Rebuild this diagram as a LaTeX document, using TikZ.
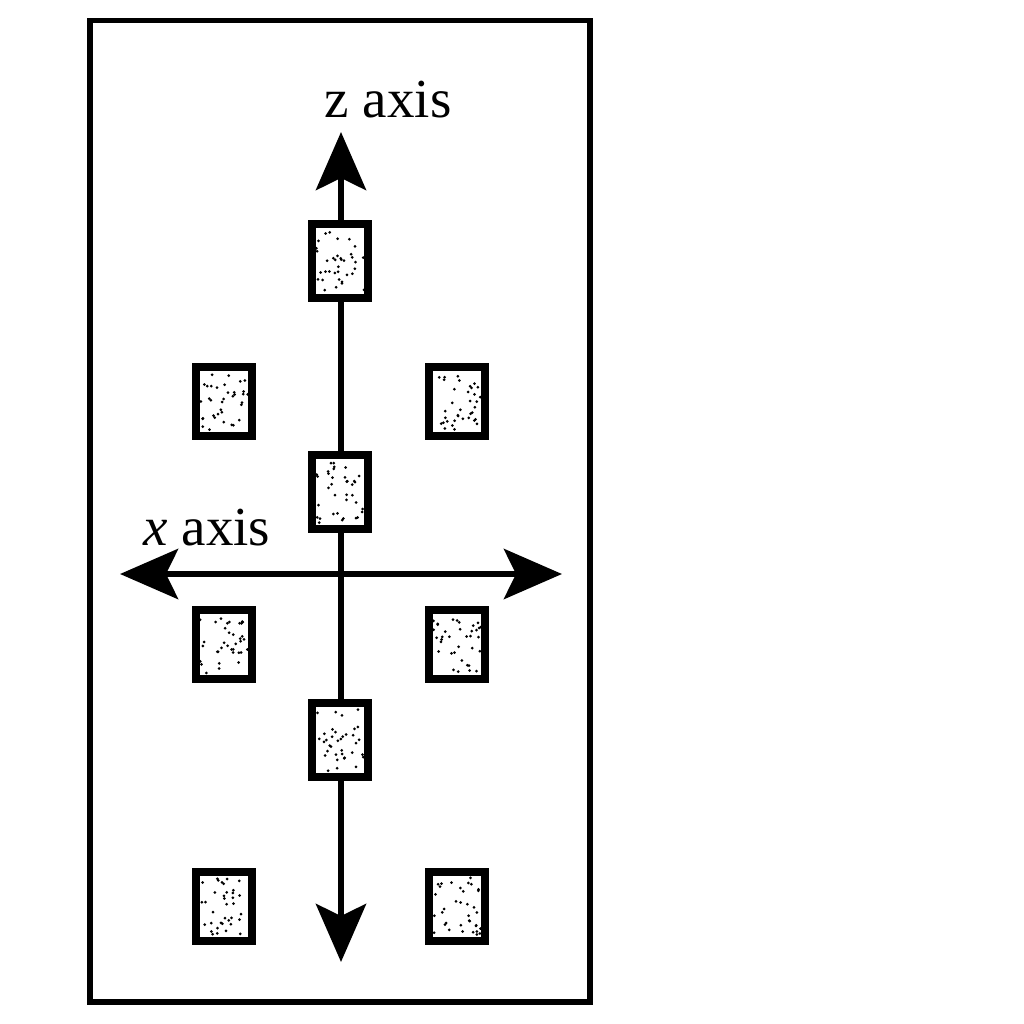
\documentclass[tikz,border=0pt]{standalone}
\usepackage{fontspec}
\setmainfont{Liberation Serif}
\usetikzlibrary{arrows.meta}
\begin{document}
\begin{tikzpicture}[x=0.5pt,y=-0.5pt,
  axisline/.style={line width=3.3pt,{Stealth[length=29pt,width=25pt,inset=6pt]}-{Stealth[length=29pt,width=25pt,inset=6pt]}},
  cbox/.style={draw,fill=white,line width=4pt,minimum width=28pt,minimum height=37pt,inner sep=0pt},
  sbox/.style={draw,fill=white,line width=4pt,minimum width=28pt,minimum height=34.5pt,inner sep=0pt},
  lbl/.style={font=\fontsize{27.5}{33}\selectfont,inner sep=0pt}]
\useasboundingbox (0,0) rectangle (1024,1024);
\draw[line width=2.8pt] (90,20.5) rectangle (590,1002);
\coordinate (ztop) at (341,132);
\coordinate (zbot) at (341,962);
\coordinate (xleft) at (120,574);
\coordinate (xright) at (562,574);
\draw[axisline] (zbot) -- (ztop);
\draw[axisline] (xleft) -- (xright);
\node[cbox] (c1) at (340,261) {};
\node[cbox] (c2) at (340,492) {};
\node[cbox] (c3) at (340,740) {};
\node[sbox] (l1) at (224,401) {};
\node[sbox] (r1) at (457,401) {};
\node[sbox] (l2) at (224,644) {};
\node[sbox] (r2) at (457,644) {};
\node[sbox] (l3) at (224,906) {};
\node[sbox] (r3) at (457,906) {};
\pgfmathsetseed{4321}
\foreach \n/\h in {c1/15.5,c2/15.5,c3/15.5,l1/14.5,r1/14.5,l2/14.5,r2/14.5,l3/14.5,r3/14.5}{
  \foreach \i in {1,...,36}{
    \fill ([shift={({rand*12pt},{rand*\h pt})}]\n.center) circle (0.75pt);
  }
}
\node[lbl] (zlabel) at (388,100) {z axis};
\node[lbl] (xlabel) at (207,528) {\textit{x} axis};
\end{tikzpicture}
\end{document}
